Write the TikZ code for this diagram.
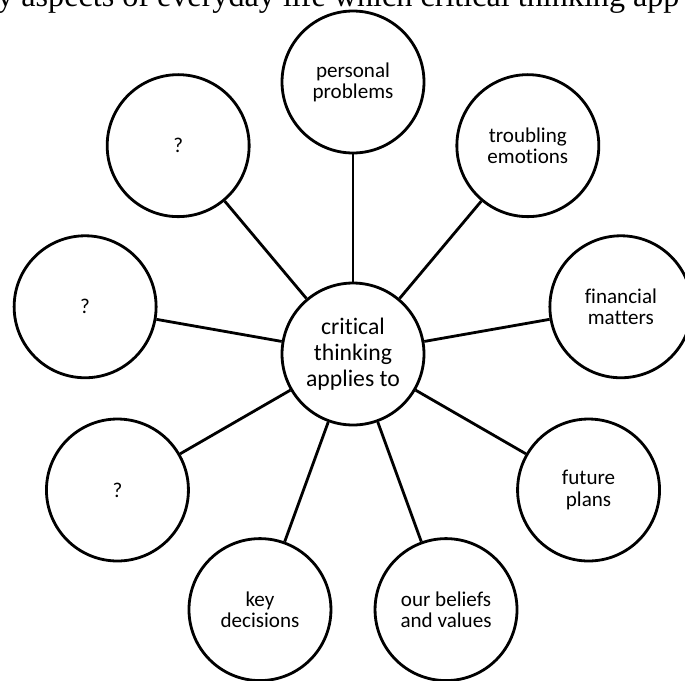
\documentclass[tikz,border=0pt]{standalone}
\usepackage{fontspec}
\setmainfont{Carlito}[Ligatures={NoCommon}]
\newfontfamily\titleserif{Liberation Serif}
\begin{document}
\begin{tikzpicture}[x=0.02cm,y=0.02cm,
      hub/.style={draw,circle,line width=1.6pt,minimum size=2.84cm,inner sep=0pt,
        align=center,font=\fontsize{13.5}{14.8}\selectfont},
      leaf/.style={draw,circle,line width=1.6pt,minimum size=2.84cm,inner sep=0pt,
        align=center,font=\fontsize{12}{12}\selectfont},
      spoke/.style={line width=1.6pt}]
      \useasboundingbox (-353,-326) rectangle (332,354);
      \clip (-353,-326) rectangle (332,354);
%
      \node[anchor=base west,inner sep=0pt,font=\titleserif\fontsize{18.3}{20}\selectfont]
        (title) at (-356,347) {y aspects of everyday life which critical thinking app};
%
      \node[hub] (hub) at (0,0) {critical\\thinking\\applies to};
%
      \node[leaf] (personal) at (90:272) {personal\\problems};
      \node[leaf] (emotions) at (50:272) {troubling\\emotions};
      \node[leaf] (financial) at (10:272) {financial\\matters};
      \node[leaf] (future) at (-30:272) {future\\plans};
      \node[leaf] (beliefs) at (-70:272) {our beliefs\\and values};
      \node[leaf] (decisions) at (-110:272) {key\\decisions};
      \node[leaf] (askc) at (-150:272) {?};
      \node[leaf] (askb) at (170:272) {?};
      \node[leaf] (aska) at (130:272) {?};
%
      \draw[spoke] (hub) -- (personal);
      \draw[spoke] (hub) -- (emotions);
      \draw[spoke] (hub) -- (financial);
      \draw[spoke] (hub) -- (future);
      \draw[spoke] (hub) -- (beliefs);
      \draw[spoke] (hub) -- (decisions);
      \draw[spoke] (hub) -- (askc);
      \draw[spoke] (hub) -- (askb);
      \draw[spoke] (hub) -- (aska);
%
\end{tikzpicture}
\end{document}
